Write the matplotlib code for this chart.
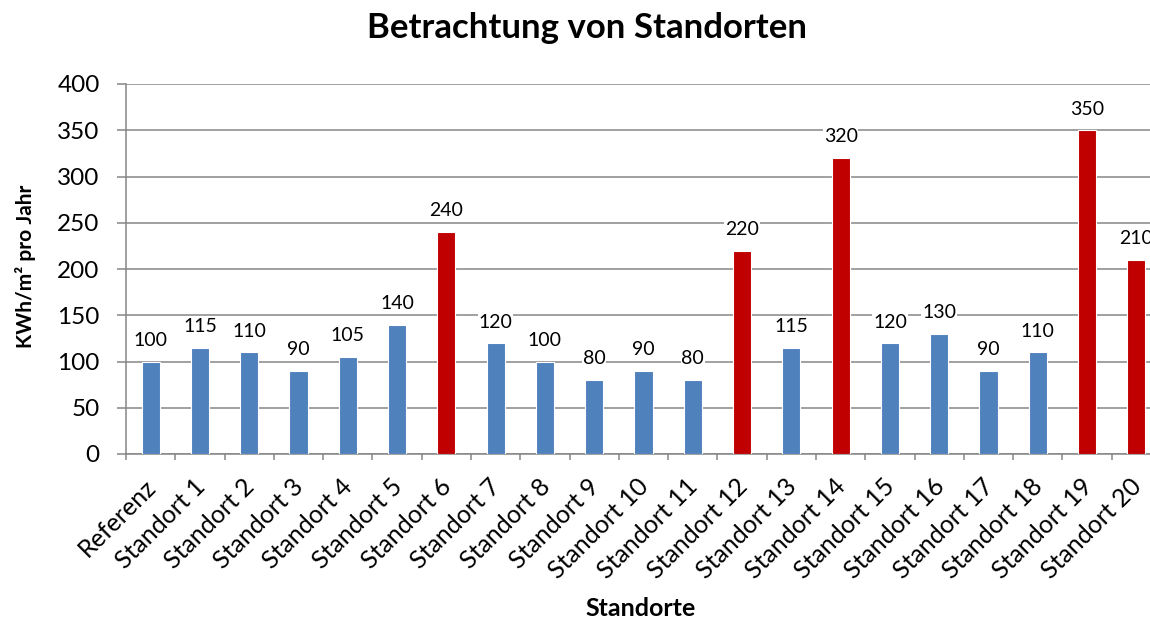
import matplotlib
matplotlib.use('Agg')
import matplotlib.pyplot as plt

plt.rcParams['font.family'] = ['Lato', 'DejaVu Sans']

# data
categories = ['Referenz'] + ['Standort %d' % i for i in range(1, 21)]
values = [100, 115, 110, 90, 105, 140, 240, 120, 100, 80, 90, 80,
          220, 115, 320, 120, 130, 90, 110, 350, 210]
highlight = ['Standort 6', 'Standort 12', 'Standort 14', 'Standort 19', 'Standort 20']

blue = '#4F81BD'
red = '#C00000'
grey = '#868686'

colors = [red if c in highlight else blue for c in categories]

fig = plt.figure(figsize=(11.5, 6.19), dpi=100)
ax = fig.add_axes([126/1150, 1 - 454/619, 1035/1150, 370/619])

x = list(range(len(categories)))
bars = ax.bar(x, values, width=0.37, color=colors, edgecolor='white',
              linewidth=0.8, zorder=3)

for xi, v in zip(x, values):
    ax.annotate(str(v), (xi, v), xytext=(0, 9), textcoords='offset points',
                ha='center', va='bottom', fontsize=14, zorder=4,
                bbox=dict(facecolor='white', edgecolor='none', pad=0.5))

ax.set_xlim(-0.5, len(categories) - 0.5)
ax.set_ylim(0, 400)
ax.set_yticks(range(0, 401, 50))
ax.yaxis.grid(True, color=grey, linewidth=1.1, zorder=0)
ax.set_axisbelow(True)

# category boundaries get the visible ticks, labels sit on (invisible) minor ticks
ax.set_xticks([i - 0.5 for i in range(len(categories) + 1)])
ax.set_xticklabels([])
ax.set_xticks([i - 0.14 for i in x], minor=True)
ax.set_xticklabels(categories, minor=True, rotation=45, ha='right',
                   va='top', rotation_mode='anchor', fontsize=18)
ax.tick_params(axis='x', which='minor', length=0, pad=15)
ax.tick_params(axis='x', which='major', length=4, color=grey, width=1.1)
ax.tick_params(axis='y', length=6.5, color=grey, width=1.1, labelsize=17.5, pad=12.5)

for s in ['top', 'right']:
    ax.spines[s].set_visible(False)
for s in ['left', 'bottom']:
    ax.spines[s].set_color(grey)
    ax.spines[s].set_linewidth(1.1)

fig.text(26/1150, 1 - 266/619, 'KWh/m² pro Jahr', rotation=90, ha='center',
         va='center', fontsize=15, fontweight='bold')
fig.text(641/1150, 1 - 608/619, 'Standorte', ha='center', va='center',
         fontsize=18, fontweight='bold')
fig.text(587/1150, 1 - 28/619, 'Betrachtung von Standorten', ha='center',
         va='center', fontsize=25, fontweight='bold')

fig.savefig('out.png', dpi=100)
